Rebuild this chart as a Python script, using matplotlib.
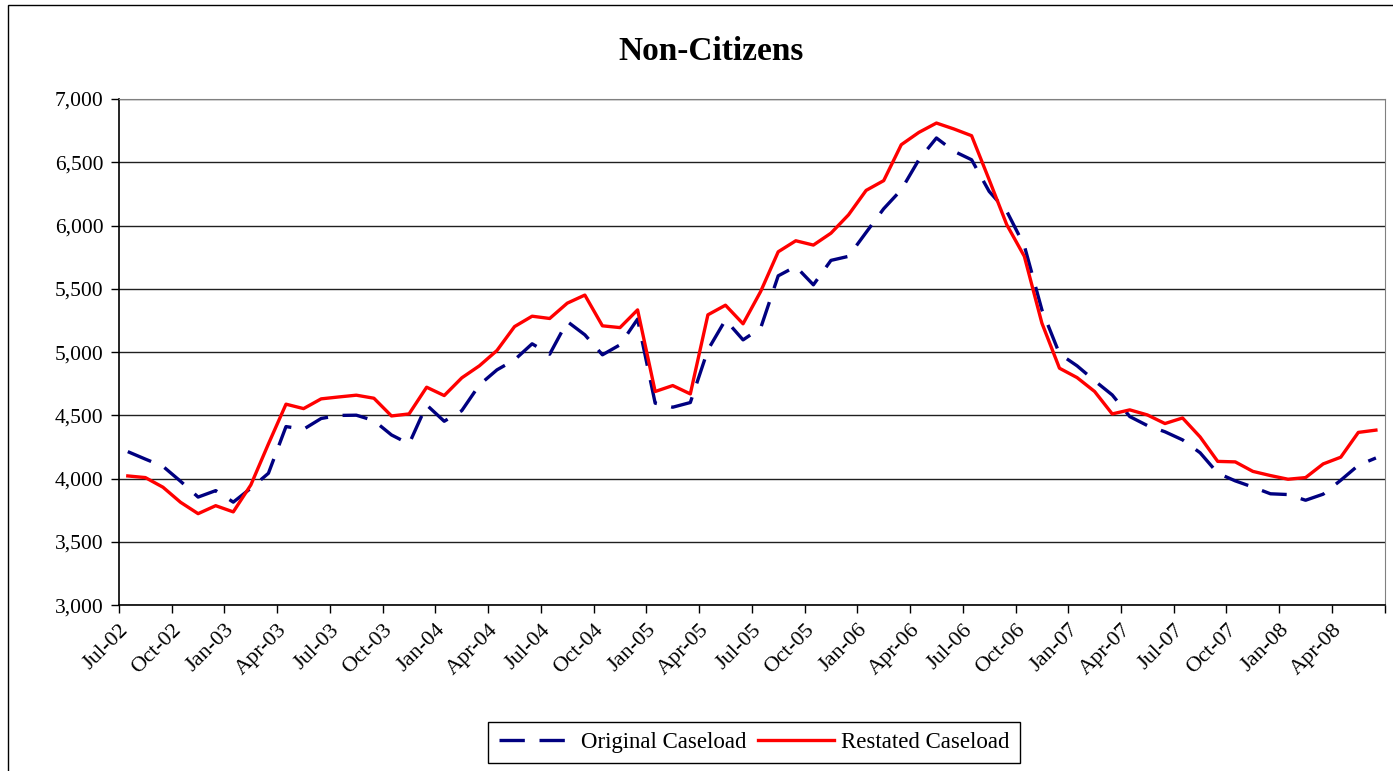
import matplotlib
matplotlib.use("Agg")
import matplotlib.pyplot as plt
from matplotlib.patches import Rectangle
import numpy as np

# monthly caseload, Jul-02 .. Jun-08
original = [4214, 4155, 4098, 3980, 3855, 3906, 3815, 3925, 4043, 4412,
            4391, 4476, 4500, 4502, 4459, 4346, 4275, 4583, 4454, 4538,
            4741, 4860, 4939, 5066, 4984, 5242, 5137, 4979, 5058, 5261,
            4597, 4565, 4602, 5018, 5255, 5097, 5190, 5603, 5677, 5532,
            5725, 5757, 5946, 6133, 6283, 6520, 6692, 6587, 6520, 6270,
            6113, 5841, 5334, 4987, 4892, 4774, 4662, 4491, 4420, 4371,
            4307, 4205, 4044, 3983, 3934, 3881, 3875, 3830, 3878, 3988,
            4106, 4164]
restated = [4022, 4009, 3933, 3814, 3724, 3787, 3738, 3951, 4275, 4589,
            4554, 4631, 4646, 4660, 4636, 4496, 4512, 4723, 4657, 4797,
            4892, 5013, 5202, 5284, 5266, 5387, 5451, 5208, 5194, 5334,
            4689, 4736, 4670, 5295, 5371, 5224, 5479, 5793, 5880, 5846,
            5940, 6085, 6278, 6355, 6639, 6736, 6810, 6763, 6710, 6362,
            6007, 5757, 5229, 4873, 4799, 4689, 4512, 4544, 4504, 4436,
            4480, 4330, 4137, 4133, 4058, 4025, 3996, 4009, 4117, 4170,
            4366, 4384]
tick_labels = ['Jul-02', 'Oct-02', 'Jan-03', 'Apr-03', 'Jul-03', 'Oct-03',
               'Jan-04', 'Apr-04', 'Jul-04', 'Oct-04', 'Jan-05', 'Apr-05',
               'Jul-05', 'Oct-05', 'Jan-06', 'Apr-06', 'Jul-06', 'Oct-06',
               'Jan-07', 'Apr-07', 'Jul-07', 'Oct-07', 'Jan-08', 'Apr-08']

plt.rcParams['font.family'] = ['Liberation Serif', 'DejaVu Serif']

fig = plt.figure(figsize=(13.93, 7.71), dpi=100)
W, H = 1393, 771
ax = fig.add_axes([119 / W, 1 - 605.3 / H, (1384.7 - 119) / W, (605.3 - 99) / H])

# outer chart frame
fig.patches.append(Rectangle((8 / W, -0.1), 1.2, (766 + 0.1 * H) / H,
                             transform=fig.transFigure, fill=False,
                             edgecolor='black', linewidth=1.0))

x = np.arange(len(original)) + 0.5
ax.plot(x, original, color='#000080', linewidth=2.4, dashes=(7.6, 4.4),
        label='Original Caseload')
ax.plot(x, restated, color='#ff0000', linewidth=2.4, label='Restated Caseload')

ax.set_xlim(0, len(original))
ax.set_ylim(3000, 7000)
ax.set_yticks(np.arange(3000, 7001, 500))
ax.set_yticklabels([f'{v:,}' for v in range(3000, 7001, 500)], fontsize=15.5)
ax.set_xticks(np.arange(0, len(original) + 1, 3))
ax.set_xticklabels(tick_labels + [''], fontsize=16, rotation=45,
                   ha='right', rotation_mode='anchor')
ax.tick_params(axis='both', direction='out', length=6, width=1, color='black')
ax.tick_params(axis='x', pad=5)
ax.tick_params(axis='y', pad=5)
ax.yaxis.grid(True, color='#202020', linewidth=1)
ax.set_axisbelow(True)
for s in ['top', 'right']:
    ax.spines[s].set_color('#808080')
for s in ['left', 'bottom']:
    ax.spines[s].set_color('black')
    ax.spines[s].set_linewidth(1.2)

fig.text(711 / W, 1 - 52 / H, 'Non-Citizens', ha='center', va='center',
         fontsize=24, fontweight='bold')

fig.legend(loc='center', bbox_to_anchor=(754 / W, 1 - 742.5 / H), ncol=2,
           fontsize=16.5, frameon=True, fancybox=False, edgecolor='black',
           framealpha=1, handlelength=3.3, columnspacing=0.5,
           handletextpad=0.3, borderpad=0.45)

fig.savefig('out.png', dpi=100)
